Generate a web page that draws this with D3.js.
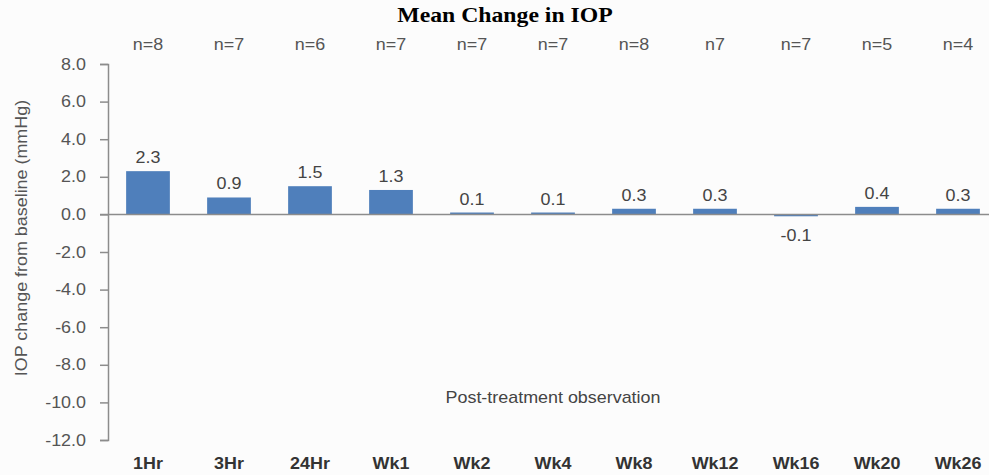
<!DOCTYPE html>
<html>
<head>
<meta charset="utf-8">
<script src="https://cdn.jsdelivr.net/npm/d3@7"></script>
<style>
  body { margin: 0; background: #fcfcfc; }
  text { font-family: "Liberation Sans", Arial, sans-serif; }
</style>
</head>
<body>
<div id="chart"></div>
<script>
var categories = ["1Hr", "3Hr", "24Hr", "Wk1", "Wk2", "Wk4", "Wk8", "Wk12", "Wk16", "Wk20", "Wk26"];
var values = [2.3, 0.9, 1.5, 1.3, 0.1, 0.1, 0.3, 0.3, -0.1, 0.4, 0.3];
var valueLabels = ["2.3", "0.9", "1.5", "1.3", "0.1", "0.1", "0.3", "0.3", "-0.1", "0.4", "0.3"];
var nLabels = ["n=8", "n=7", "n=6", "n=7", "n=7", "n=7", "n=8", "n7", "n=7", "n=5", "n=4"];
var yTicks = [8, 6, 4, 2, 0, -2, -4, -6, -8, -10, -12];

var width = 989, height = 475;
var stretch = 1.12; // the source text is drawn a little wider than normal

var svg = d3.select('#chart')
    .append('svg')
    .attr('width', width)
    .attr('height', height);

var x = d3.scaleBand()
    .domain(categories)
    .range([107.5, 998.5])
    .paddingInner(0.46)
    .paddingOuter(0.23);

var y = d3.scaleLinear()
    .domain([-12, 8])
    .range([440, 64]);

function place(x0, y0) {
    return 'translate(' + x0 + ',' + y0 + ') scale(' + stretch + ',1)';
}

// title
svg.append('text')
    .attr('transform', 'translate(505,22) scale(1.13,1)')
    .attr('text-anchor', 'middle')
    .style('font-family', '"Liberation Serif", "Times New Roman", serif')
    .style('font-weight', 'bold')
    .style('font-size', '21px')
    .text('Mean Change in IOP');

// y axis
var yAxis = d3.axisLeft(y)
    .tickValues(yTicks)
    .tickSize(8)
    .tickFormat(function(d) { return d.toFixed(1); });

var gy = svg.append('g')
    .attr('transform', 'translate(108,0)')
    .call(yAxis);
gy.select('.domain').attr('stroke', '#8c8c8c').attr('stroke-width', 1.5);
gy.selectAll('.tick line').attr('stroke', '#8c8c8c').attr('stroke-width', 1.5);
gy.selectAll('.tick text')
    .attr('x', 0)
    .attr('transform', 'translate(-22,0) scale(' + stretch + ',1)')
    .attr('fill', '#555')
    .style('font-size', '16px')
    .style('font-family', '"Liberation Sans", Arial, sans-serif');

// bars
svg.append('g')
    .selectAll('rect')
    .data(values)
    .enter()
    .append('rect')
    .attr('x', function(d, i) { return x(categories[i]); })
    .attr('width', x.bandwidth())
    .attr('y', function(d) { return y(Math.max(0, d)); })
    .attr('height', function(d) { return Math.abs(y(d) - y(0)); })
    .attr('fill', '#4f7fbb');

// zero line
svg.append('line')
    .attr('x1', 100)
    .attr('x2', width)
    .attr('y1', y(0))
    .attr('y2', y(0))
    .attr('stroke', '#8c8c8c')
    .attr('stroke-width', 1.5);

// value labels
svg.append('g')
    .selectAll('text')
    .data(values)
    .enter()
    .append('text')
    .attr('transform', function(d, i) {
        return place(x(categories[i]) + x.bandwidth() / 2, d >= 0 ? y(d) - 8 : y(d) + 25);
    })
    .attr('text-anchor', 'middle')
    .attr('fill', '#444')
    .style('font-size', '16px')
    .text(function(d, i) { return valueLabels[i]; });

// n labels
svg.append('g')
    .selectAll('text')
    .data(nLabels)
    .enter()
    .append('text')
    .attr('transform', function(d, i) { return place(x(categories[i]) + x.bandwidth() / 2, 50); })
    .attr('text-anchor', 'middle')
    .attr('fill', '#555')
    .style('font-size', '16px')
    .text(function(d) { return d; });

// category labels
svg.append('g')
    .selectAll('text')
    .data(categories)
    .enter()
    .append('text')
    .attr('transform', function(d) { return place(x(d) + x.bandwidth() / 2, 469); })
    .attr('text-anchor', 'middle')
    .attr('fill', '#333')
    .style('font-size', '16px')
    .style('font-weight', 'bold')
    .text(function(d) { return d; });

// x axis title
svg.append('text')
    .attr('transform', place(553, 403))
    .attr('text-anchor', 'middle')
    .attr('fill', '#444')
    .style('font-size', '16px')
    .text('Post-treatment observation');

// y axis title
svg.append('text')
    .attr('transform', 'translate(27,238) rotate(-90) scale(' + stretch + ',1)')
    .attr('text-anchor', 'middle')
    .attr('fill', '#555')
    .style('font-size', '16px')
    .text('IOP change from baseline (mmHg)');
</script>
</body>
</html>
